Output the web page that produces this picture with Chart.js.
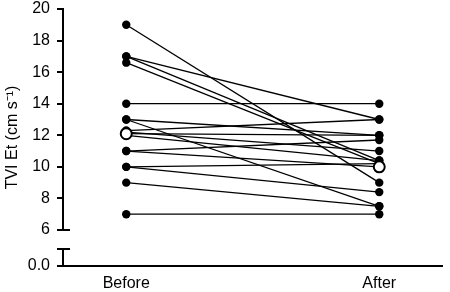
<!DOCTYPE html>
<html>
<head>
<meta charset="utf-8">
<script src="https://cdn.jsdelivr.net/npm/chart.js@4"></script>
<style>
  html, body { margin: 0; padding: 0; background: #fff; }
  #wrap { width: 450px; height: 292px; }
</style>
</head>
<body>
<div id="wrap"><canvas id="tvi"></canvas></div>
<script>
const groups = ["Before", "After"];
// one entry per subject: value before and after
const beforeValues = [19, 17, 17, 16.6, 14, 13, 13, 12.3, 12.2, 12.1, 12.0, 11, 11, 10, 10, 9, 7];
const afterValues = [9, 13, 10.4, 10.2, 14, 12, 7.5, 13, 11, 12, 10.4, 11.7, 10, 10.2, 8.4, 7.5, 7];
const meanValues = [12.1, 10.0];
const yTicks = [6, 8, 10, 12, 14, 16, 18, 20];
const lowTickLabel = "0.0";

document.addEventListener("DOMContentLoaded", function () {
  const ctx = document.getElementById("tvi").getContext("2d");
  const font = { family: "'Liberation Sans', Arial, sans-serif", size: 16 };
  const stackWidth = 41;

  const datasets = [
    {
      label: "Mean",
      data: meanValues.map((v, i) => ({ x: i, y: v })),
      showLine: false,
      pointRadius: 5.5,
      pointBackgroundColor: "#fff",
      pointBorderColor: "#000",
      pointBorderWidth: 2,
      yAxisID: "y",
    },
  ];
  beforeValues.forEach(function (b, i) {
    datasets.push({
      label: "Subject " + (i + 1),
      data: [{ x: 0, y: b }, { x: 1, y: afterValues[i] }],
      showLine: true,
      borderColor: "#000",
      borderWidth: 1.3,
      pointRadius: 4.2,
      pointBackgroundColor: "#000",
      pointBorderWidth: 0,
      yAxisID: "y",
    });
  });

  // end caps where the y axis is broken
  const breakCaps = {
    id: "breakCaps",
    afterDraw(chart) {
      const y = chart.scales.y, y0 = chart.scales.y0;
      const c = chart.ctx, ax = y.right;
      c.save();
      c.strokeStyle = "#000";
      c.lineWidth = 2;
      [y.getPixelForValue(6), y0.top].forEach(function (py) {
        c.beginPath();
        c.moveTo(ax - 6, py);
        c.lineTo(ax + 7, py);
        c.stroke();
      });
      c.restore();
    },
  };

  new Chart(ctx, {
    type: "scatter",
    data: { datasets: datasets },
    options: {
      responsive: true,
      maintainAspectRatio: false,
      animation: false,
      layout: { padding: { top: 9, right: 3, left: 0, bottom: 0 } },
      plugins: { legend: { display: false }, tooltip: { enabled: false } },
      scales: {
        x: {
          type: "linear",
          min: -0.25,
          max: 1.25,
          afterBuildTicks: (s) => { s.ticks = groups.map((g, i) => ({ value: i })); },
          afterFit: (s) => { s.height = 26; },
          ticks: { callback: (v) => groups[v], font: font, color: "#000", padding: 8, maxRotation: 0, autoSkip: false },
          grid: { display: false, drawTicks: false },
          border: { color: "#000", width: 2 },
        },
        yt: {
          type: "linear",
          position: "left",
          weight: 10,
          afterFit: (s) => { s.width = 22; },
          ticks: { display: false },
          grid: { display: false, drawTicks: false },
          border: { display: false },
          title: {
            display: true,
            text: "TVI Et (cm s\u207B\u00B9)",
            font: { family: font.family, size: 16 },
            color: "#000",
            padding: { top: 3, bottom: 0 },
          },
        },
        y: {
          type: "linear",
          position: "left",
          stack: "left",
          stackWeight: 221,
          weight: 3,
          min: 6,
          max: 20,
          afterBuildTicks: (s) => { s.ticks = yTicks.map((v) => ({ value: v })); },
          afterFit: (s) => { s.width = stackWidth; s.paddingTop = 0; s.paddingBottom = 0; },
          ticks: { font: font, color: "#000", padding: 7, autoSkip: false },
          grid: { drawOnChartArea: false, drawTicks: true, tickLength: 6, color: "#000", lineWidth: 2 },
          border: { color: "#000", width: 2 },
        },
        yGap: {
          type: "linear",
          position: "left",
          stack: "left",
          stackWeight: 19,
          weight: 2,
          min: 0,
          max: 1,
          afterFit: (s) => { s.width = stackWidth; },
          ticks: { display: false },
          grid: { display: false, drawTicks: false },
          border: { display: false },
        },
        y0: {
          type: "linear",
          position: "left",
          stack: "left",
          stackWeight: 17,
          weight: 1,
          min: 0,
          max: 1,
          afterBuildTicks: (s) => { s.ticks = [{ value: 0 }]; },
          afterFit: (s) => { s.width = stackWidth; s.paddingTop = 0; s.paddingBottom = 0; },
          ticks: { callback: () => lowTickLabel, font: font, color: "#000", padding: 7, autoSkip: false },
          grid: { drawOnChartArea: false, drawTicks: true, tickLength: 6, color: "#000", lineWidth: 2 },
          border: { color: "#000", width: 2 },
        },
      },
    },
    plugins: [breakCaps],
  });
});
</script>
</body>
</html>
